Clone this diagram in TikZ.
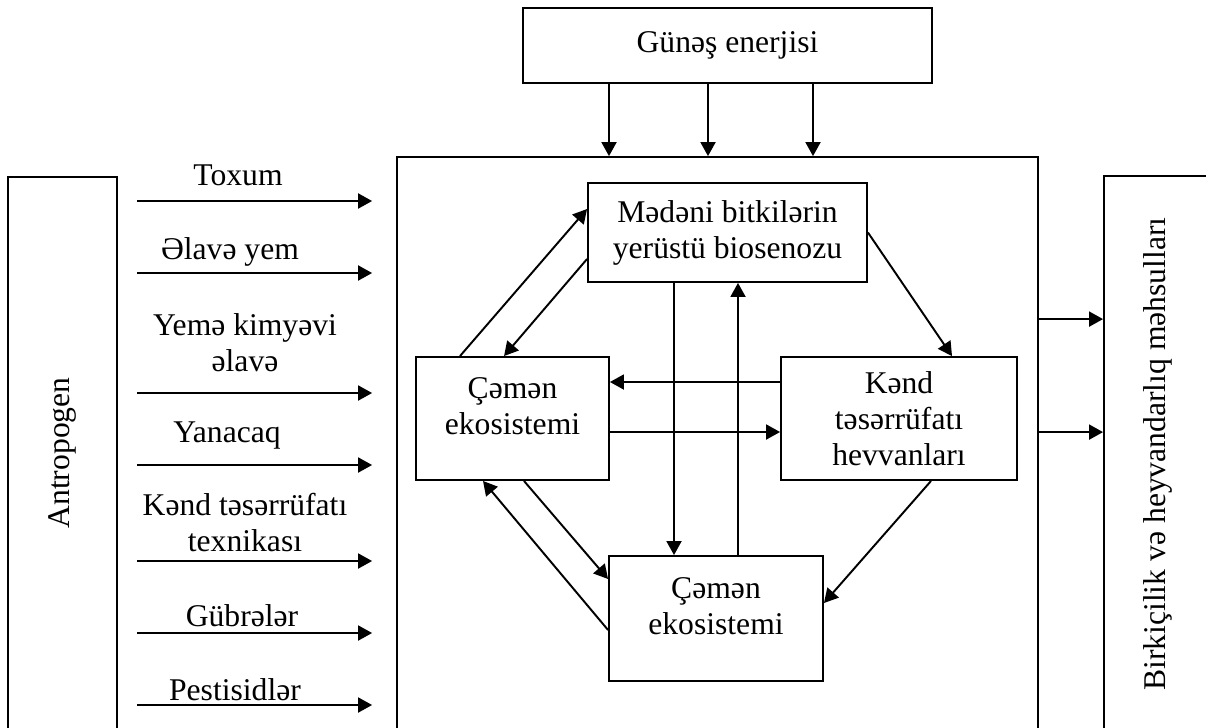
\documentclass[tikz,border=0pt]{standalone}
\usepackage{fontspec}
\setmainfont{Liberation Serif}
\usetikzlibrary{arrows.meta, calc, positioning}

\begin{document}
\begin{tikzpicture}[
    x=0.02cm, y=-0.02cm,
    font=\fontsize{18}{20.5}\selectfont,
    line width=1.1pt,
    >={Triangle[length=0.28cm, width=0.3cm]},
    box/.style={
        draw,
        rectangle,
        inner sep=0pt,
        align=center
    },
    lbl/.style={
        anchor=south,
        inner sep=0pt,
        align=center
    }
]

    \useasboundingbox (0,0) rectangle (1206,727);
    \clip (0,0) rectangle (1206,727);

    % Sun
    \node [box, minimum width=8.18cm, minimum height=1.5cm] (gunes) at (727.5,45.5) {Günəş enerjisi};

    % Main block (its bottom edge is off the page)
    \node [box, minimum width=12.82cm, minimum height=11.56cm] (system) at (717.5,446) {};

    % Side blocks
    \node [box, minimum width=2.18cm, minimum height=11.04cm] (antro) at (62.5,453) {\rotatebox{90}{Antropogen}};
    \node [box, minimum width=2.16cm, minimum height=11.12cm] (prod) at (1158,454) {\rotatebox{90}{Birkiçilik və heyvandarlıq məhsulları}};

    % Inner blocks
    \node [box, minimum width=5.58cm, minimum height=1.98cm] (bio) at (727.5,232.5) {Mədəni bitkilərin\\yerüstü biosenozu};
    \node [box, minimum width=3.86cm, minimum height=2.46cm, text depth=0.5cm] (cemen1) at (512.5,418.5) {Çəmən\\ekosistemi};
    \node [box, minimum width=4.72cm, minimum height=2.46cm] (kend) at (899,418.5) {Kənd\\təsərrüfatı\\hevvanları};
    \node [box, minimum width=4.28cm, minimum height=2.5cm, text depth=0.5cm] (cemen2) at (716,618.5) {Çəmən\\ekosistemi};

    % Sun energy into the main block
    \foreach \i/\dx in {1/-118.5, 2/-19.5, 3/85.5} {
        \coordinate (sun\i) at ($(gunes.south)+(\dx,0)$);
        \draw [->] (sun\i) -- (sun\i |- system.north);
    }

    % Inputs
    \coordinate (inx) at ($(system.west)+(-24,0)$);
    \foreach \i/\ya/\xl/\yl/\txt in {
        1/201/238/187/Toxum,
        2/273/230/267/Əlavə yem,
        3/393/245/373/{Yemə kimyəvi\\əlavə},
        4/465/227/450/Yanacaq,
        5/561/245/553/{Kənd təsərrüfatı\\texnikası},
        6/633/242/628/Gübrələr,
        7/705/235/702/Pestisidlər} {
        \coordinate (src\i) at (137,\ya);
        \draw [->] (src\i) -- (src\i -| inx);
        \node [lbl] (lbl\i) at (\xl,\yl) {\txt};
    }

    % Outputs
    \foreach \i/\dy in {1/144, 2/257} {
        \coordinate (out\i) at ($(prod.north west)+(0,\dy)$);
        \draw [->] (system.east |- out\i) -- (out\i);
    }

    % Links between inner blocks
    \draw [->] (bio.east) -- ($(kend.north)+(53,0)$);
    \draw [->] ($(cemen1.north)+(-52.5,0)$) -- ($(bio.west)+(0,-23.5)$);
    \draw [->] ($(bio.west)+(0,26.5)$) -- ($(cemen1.north)+(-8.5,0)$);
    \draw [->] ($(kend.west)+(0,-36.5)$) -- ($(cemen1.east)+(0,-36.5)$);
    \draw [->] ($(cemen1.east)+(0,13.5)$) -- ($(kend.west)+(0,13.5)$);
    \coordinate (down) at ($(bio.south)+(-53.5,0)$);
    \coordinate (up) at ($(bio.south)+(10.5,0)$);
    \draw [->] (down) -- (down |- cemen2.north);
    \draw [->] (up |- cemen2.north) -- (up);
    \draw [->] ($(cemen1.south)+(11.5,0)$) -- ($(cemen2.west)+(0,-39.5)$);
    \draw [->] ($(cemen2.west)+(0,11.5)$) -- ($(cemen1.south)+(-29.5,0)$);
    \draw [->] ($(kend.south)+(32,0)$) -- ($(cemen2.east)+(0,-15.5)$);

\end{tikzpicture}
\end{document}
